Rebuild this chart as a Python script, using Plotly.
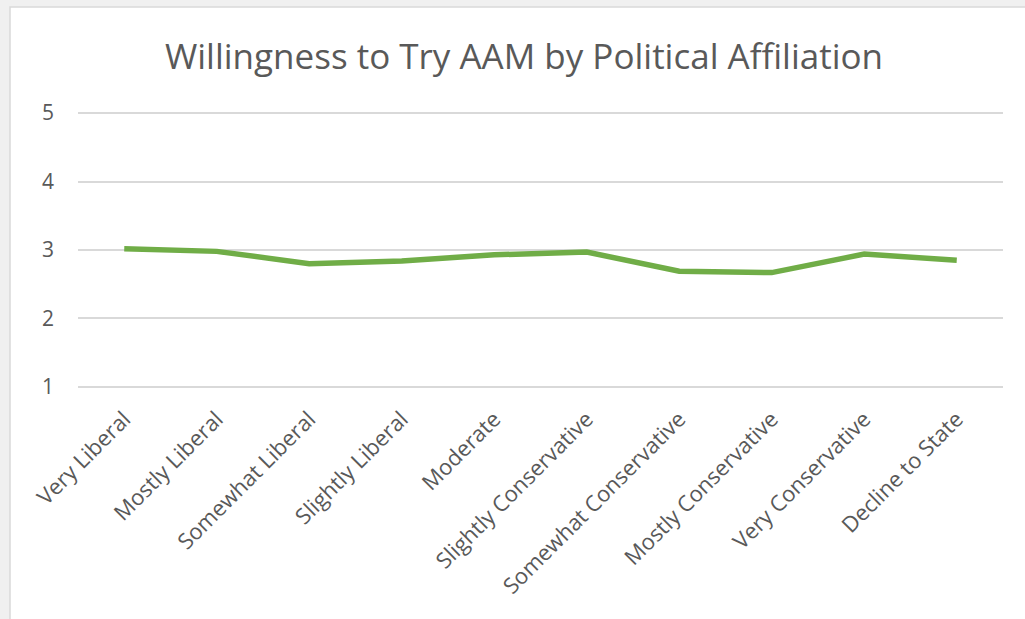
import plotly.graph_objects as go

categories = ["Very Liberal", "Mostly Liberal", "Somewhat Liberal", "Slightly Liberal",
              "Moderate", "Slightly Conservative", "Somewhat Conservative",
              "Mostly Conservative", "Very Conservative", "Decline to State"]
willingness = [3.02, 2.98, 2.80, 2.84, 2.93, 2.97, 2.69, 2.67, 2.94, 2.85]
y_ticks = [1, 2, 3, 4, 5]
title_text = "Willingness to Try AAM by Political Affiliation"

FONT = "Open Sans"
W, H = 1025, 619
L, R, T, B = 78, 22, 111, 230
pw, ph = W - L - R, H - T - B

def px_x(px):
    return (px - L) / pw

def px_y(py):
    return (H - B - py) / ph

fig = go.Figure()
fig.add_trace(go.Scatter(
    x=categories, y=willingness, mode="lines",
    line=dict(color="#70AD47", width=5.5, shape="linear"),
    hoverinfo="x+y", showlegend=False,
))

fig.update_layout(
    width=W, height=H,
    margin=dict(l=L, r=R, t=T, b=B),
    paper_bgcolor="#f0f0f0",
    plot_bgcolor="white",
    title=dict(text=title_text, x=524 / W, xanchor="center", xref="container",
               y=1 - 57 / H, yanchor="middle",
               font=dict(family=FONT, size=35, color="#595959")),
    xaxis=dict(
        type="category", categoryorder="array", categoryarray=categories,
        tickangle=-45, tickfont=dict(family=FONT, size=22, color="#595959"),
        showgrid=False, showline=False, zeroline=False, ticks="",
        ticklabelstandoff=12,
        range=[-0.5, len(categories) - 0.5],
    ),
    yaxis=dict(
        range=[0.97, 5.03], tickvals=y_ticks, ticktext=[str(v) for v in y_ticks],
        tickfont=dict(family=FONT, size=21, color="#595959"),
        showgrid=True, gridcolor="#d9d9d9", gridwidth=1.5,
        zeroline=False, showline=False, ticks="", ticklabelstandoff=23,
    ),
    shapes=[
        dict(type="rect", xref="paper", yref="paper", layer="below",
             x0=px_x(10), x1=px_x(W + 5), y0=px_y(H + 5), y1=px_y(7),
             fillcolor="white", line=dict(color="#d9d9d9", width=1.5)),
    ],
)

fig.write_html("out.html")
